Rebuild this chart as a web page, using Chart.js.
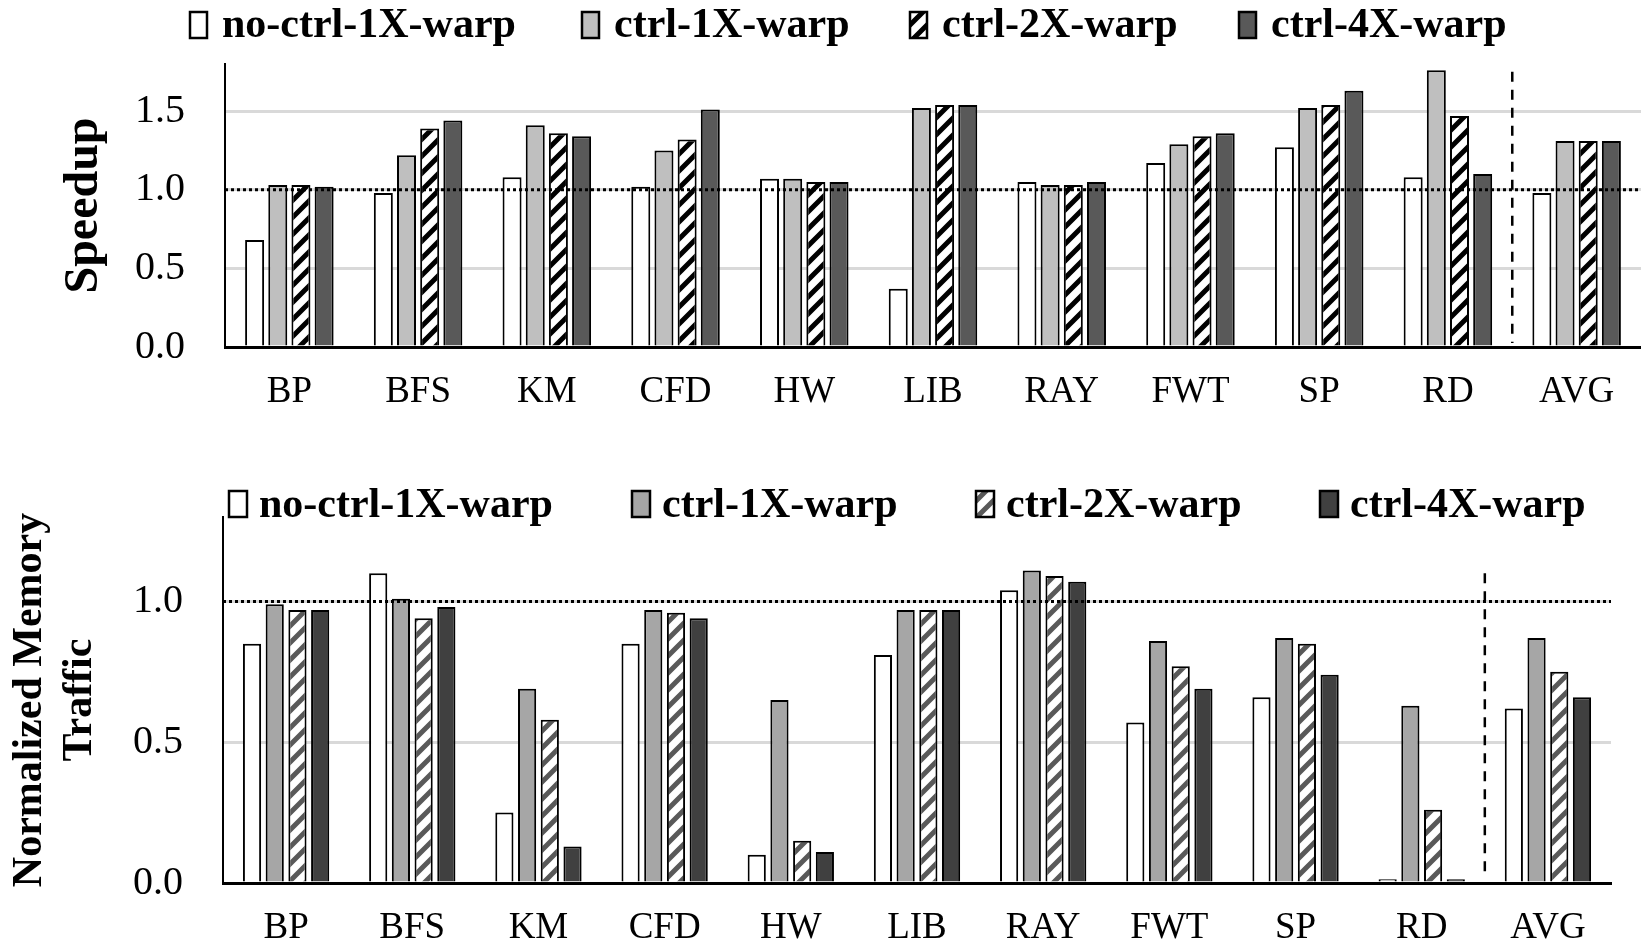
<!doctype html>
<html lang="en">
<head>
  <meta charset="utf-8">
  <title>Speedup and Memory Traffic</title>
  <script src="https://cdn.jsdelivr.net/npm/chart.js"></script>
  <style>
    html, body { margin: 0; background: #fff; overflow: hidden; }
    canvas { display: block; }
    .panel { overflow: hidden; width: 1641px; }
  </style>
</head>
<body>
<div class="panel" style="height:440px"><canvas id="speedupChart" width="1641" height="440"></canvas></div>
<div class="panel" style="height:502px"><canvas id="trafficChart" width="1641" height="513"></canvas></div>

<script>
  // benchmarks and series
  const categories = ['BP', 'BFS', 'KM', 'CFD', 'HW', 'LIB', 'RAY', 'FWT', 'SP', 'RD', 'AVG'];
  const seriesNames = ['no-ctrl-1X-warp', 'ctrl-1X-warp', 'ctrl-2X-warp', 'ctrl-4X-warp'];

  // top panel: speedup
  const speedupNoCtrl1x = [0.68, 0.98, 1.08, 1.02, 1.07, 0.37, 1.05, 1.17, 1.27, 1.08, 0.98];
  const speedupCtrl1x   = [1.03, 1.22, 1.41, 1.25, 1.07, 1.52, 1.03, 1.29, 1.52, 1.76, 1.31];
  const speedupCtrl2x   = [1.03, 1.39, 1.36, 1.32, 1.05, 1.54, 1.03, 1.34, 1.54, 1.47, 1.31];
  const speedupCtrl4x   = [1.02, 1.44, 1.34, 1.51, 1.05, 1.54, 1.05, 1.36, 1.63, 1.10, 1.31];
  const speedupTicks = [0, 0.5, 1.0, 1.5];

  // bottom panel: normalized memory traffic
  const trafficNoCtrl1x = [0.85, 1.10, 0.25, 0.85, 0.10, 0.81, 1.04, 0.57, 0.66, 0.013, 0.62];
  const trafficCtrl1x   = [0.99, 1.01, 0.69, 0.97, 0.65, 0.97, 1.11, 0.86, 0.87, 0.63, 0.87];
  const trafficCtrl2x   = [0.97, 0.94, 0.58, 0.96, 0.15, 0.97, 1.09, 0.77, 0.85, 0.26, 0.75];
  const trafficCtrl4x   = [0.97, 0.98, 0.13, 0.94, 0.11, 0.97, 1.07, 0.69, 0.74, 0.013, 0.66];
  const trafficTicks = [0, 0.5, 1.0];

  const serif = '"Liberation Serif", "Times New Roman", serif';

  function hatch(color) {
    const P = 17;
    const c = document.createElement('canvas');
    c.width = P; c.height = P;
    const x = c.getContext('2d');
    x.fillStyle = '#fff';
    x.fillRect(0, 0, P, P);
    x.strokeStyle = color;
    x.lineWidth = 5;
    x.beginPath();
    x.moveTo(-6, 6); x.lineTo(6, -6);
    x.moveTo(-6, P + 6); x.lineTo(P + 6, -6);
    x.moveTo(P - 6, P + 6); x.lineTo(P + 6, P - 6);
    x.stroke();
    return x.createPattern(c, 'repeat');
  }

  // legend drawn as boxes + bold text at fixed spots
  const boxLegend = {
    id: 'boxLegend',
    afterDraw(chart, args, opts) {
      const ctx = chart.ctx;
      ctx.save();
      ctx.font = 'bold 42px ' + serif;
      ctx.textBaseline = 'middle';
      ctx.textAlign = 'left';
      chart.data.datasets.forEach((ds, i) => {
        const x = opts.xs[i];
        ctx.fillStyle = ds.backgroundColor;
        ctx.fillRect(x, opts.boxY, opts.boxW, opts.boxH);
        ctx.lineWidth = 2.5;
        ctx.strokeStyle = '#000';
        ctx.strokeRect(x, opts.boxY, opts.boxW, opts.boxH);
        ctx.fillStyle = '#000';
        ctx.fillText(ds.label, x + opts.boxW + opts.gap, opts.textY);
      });
      ctx.restore();
    }
  };

  // dotted reference line at 1.0 and dashed separator before AVG
  const refLines = {
    id: 'refLines',
    afterDatasetsDraw(chart, args, opts) {
      const {ctx, chartArea, scales} = chart;
      const y1 = scales.y.getPixelForValue(1);
      ctx.save();
      ctx.strokeStyle = '#000';
      ctx.lineWidth = 3;
      ctx.setLineDash([3, 3]);
      ctx.beginPath();
      ctx.moveTo(chartArea.left, y1);
      ctx.lineTo(chartArea.right, y1);
      ctx.stroke();

      const xs = scales.x.getPixelForValue(categories.length - 1.5);
      ctx.lineWidth = 2.5;
      ctx.setLineDash([10, 8]);
      ctx.beginPath();
      ctx.moveTo(xs, scales.y.getPixelForValue(opts.dashFrom));
      ctx.lineTo(xs, chartArea.bottom - 4);
      ctx.stroke();
      ctx.restore();
    }
  };

  function makeChart(id, cfg) {
    const ctx = document.getElementById(id).getContext('2d');
    const fills = cfg.fills;
    const sets = [cfg.a, cfg.b, cfg.c, cfg.d].map((data, i) => ({
      label: seriesNames[i],
      data: data,
      backgroundColor: fills[i],
      borderColor: '#000',
      borderWidth: 2,
      categoryPercentage: 0.72,
      barPercentage: cfg.barPct
    }));

    return new Chart(ctx, {
      type: 'bar',
      data: { labels: categories, datasets: sets },
      plugins: [boxLegend, refLines],
      options: {
        responsive: false,
        animation: false,
        devicePixelRatio: 1,
        layout: { padding: cfg.padding },
        plugins: {
          legend: { display: false },
          tooltip: { enabled: false },
          boxLegend: cfg.legend,
          refLines: { dashFrom: cfg.dashFrom }
        },
        scales: {
          x: {
            grid: { display: false, drawTicks: false },
            border: { display: true, color: '#000', width: 3 },
            ticks: { color: '#000', padding: cfg.xPad, font: { family: serif, size: 37 }, maxRotation: 0 },
            afterFit(scale) { scale.height = cfg.xHeight; }
          },
          y: {
            min: 0,
            max: cfg.max,
            afterBuildTicks(scale) { scale.ticks = cfg.ticks.map(v => ({ value: v })); },
            ticks: {
              color: '#000',
              padding: 40,
              font: { family: serif, size: 40 },
              callback: v => v.toFixed(1)
            },
            grid: {
              drawTicks: false,
              lineWidth: 3,
              color: c => (c.tick && c.tick.value === 0) ? 'rgba(0,0,0,0)' : '#d9d9d9'
            },
            border: { display: true, color: '#000', width: 2 },
            title: {
              display: true,
              text: cfg.title,
              color: '#000',
              font: { family: serif, size: cfg.titleSize, weight: 'bold', lineHeight: 1.2 },
              padding: { top: cfg.titlePad, bottom: 0 }
            },
            afterFit(scale) { scale.width = cfg.yWidth; }
          }
        }
      }
    });
  }

  makeChart('speedupChart', {
    a: speedupNoCtrl1x, b: speedupCtrl1x, c: speedupCtrl2x, d: speedupCtrl4x,
    fills: ['#ffffff', '#bfbfbf', hatch('#000000'), '#595959'],
    barPct: 0.82,
    max: 1.8,
    ticks: speedupTicks,
    title: 'Speedup',
    titleSize: 48,
    titlePad: 56,
    yWidth: 225,
    xHeight: 93,
    xPad: 23,
    padding: { top: 64, left: 0, right: 0, bottom: 0 },
    dashFrom: 1.75,
    legend: { xs: [190, 582, 910, 1239], boxY: 12, boxW: 17, boxH: 26, gap: 15, textY: 26 }
  });

  makeChart('trafficChart', {
    a: trafficNoCtrl1x, b: trafficCtrl1x, c: trafficCtrl2x, d: trafficCtrl4x,
    fills: ['#ffffff', '#a6a6a6', hatch('#595959'), '#404040'],
    barPct: 0.8,
    max: 1.3,
    ticks: trafficTicks,
    title: ['Normalized Memory', 'Traffic'],
    titleSize: 42,
    titlePad: 5,
    yWidth: 223,
    xHeight: 70,
    xPad: 23,
    padding: { top: 77, left: 0, right: 30, bottom: 0 },
    dashFrom: 1.1,
    legend: { xs: [229, 632, 976, 1320], boxY: 51, boxW: 18, boxH: 26, gap: 12, textY: 66 }
  });
</script>
</body>
</html>
